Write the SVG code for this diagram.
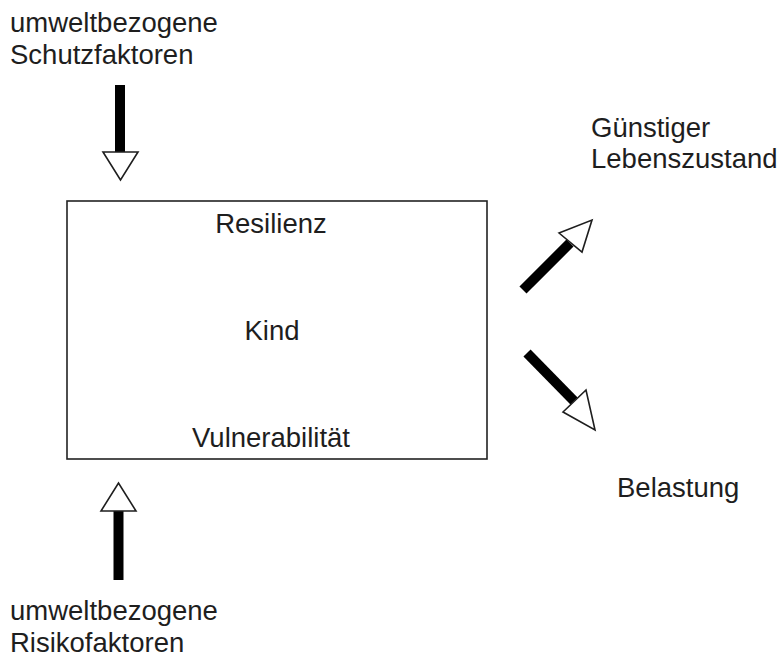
<svg xmlns="http://www.w3.org/2000/svg" width="784" height="660" viewBox="0 0 784 660">
<style>
text{font-family:"Liberation Sans",Arial,sans-serif;font-size:27.5px;fill:#1e1e1e}
.c{text-anchor:middle}
.shaft{stroke:#000;stroke-width:10;fill:none}
.head{fill:#fff;stroke:#1e1e1e;stroke-width:1.6;stroke-linejoin:miter}
</style>
<rect width="784" height="660" fill="#fff"/>
<g id="kind">
<rect x="67" y="201" width="420" height="258" fill="#fff" stroke="#222" stroke-width="1.6"/>
<text class="c" x="271" y="233">Resilienz</text>
<text class="c" x="272" y="340">Kind</text>
<text class="c" x="271" y="447">Vulnerabilität</text>
</g>
<g id="schutz">
<text x="10" y="32">umweltbezogene</text>
<text x="10" y="64">Schutzfaktoren</text>
</g>
<g id="risiko">
<text x="10" y="620">umweltbezogene</text>
<text x="10" y="652">Risikofaktoren</text>
</g>
<g id="guenstig">
<text x="591" y="137">Günstiger</text>
<text x="591" y="168">Lebenszustand</text>
</g>
<g id="belastung">
<text x="617" y="497">Belastung</text>
</g>
<g id="connectors">
<line class="shaft" x1="120" y1="85" x2="120" y2="152"/>
<polygon class="head" points="103,152 138,152 120.5,180"/>
<line class="shaft" x1="118.5" y1="580" x2="118.5" y2="511"/>
<polygon class="head" points="101,511 136,511 118.5,483"/>
<line class="shaft" x1="523" y1="290" x2="570" y2="243"/>
<polygon class="head" points="559,233 582,252 592,220"/>
<line class="shaft" x1="527" y1="353" x2="574" y2="401"/>
<polygon class="head" points="563,412 586,390 595,430"/>
</g>
</svg>
